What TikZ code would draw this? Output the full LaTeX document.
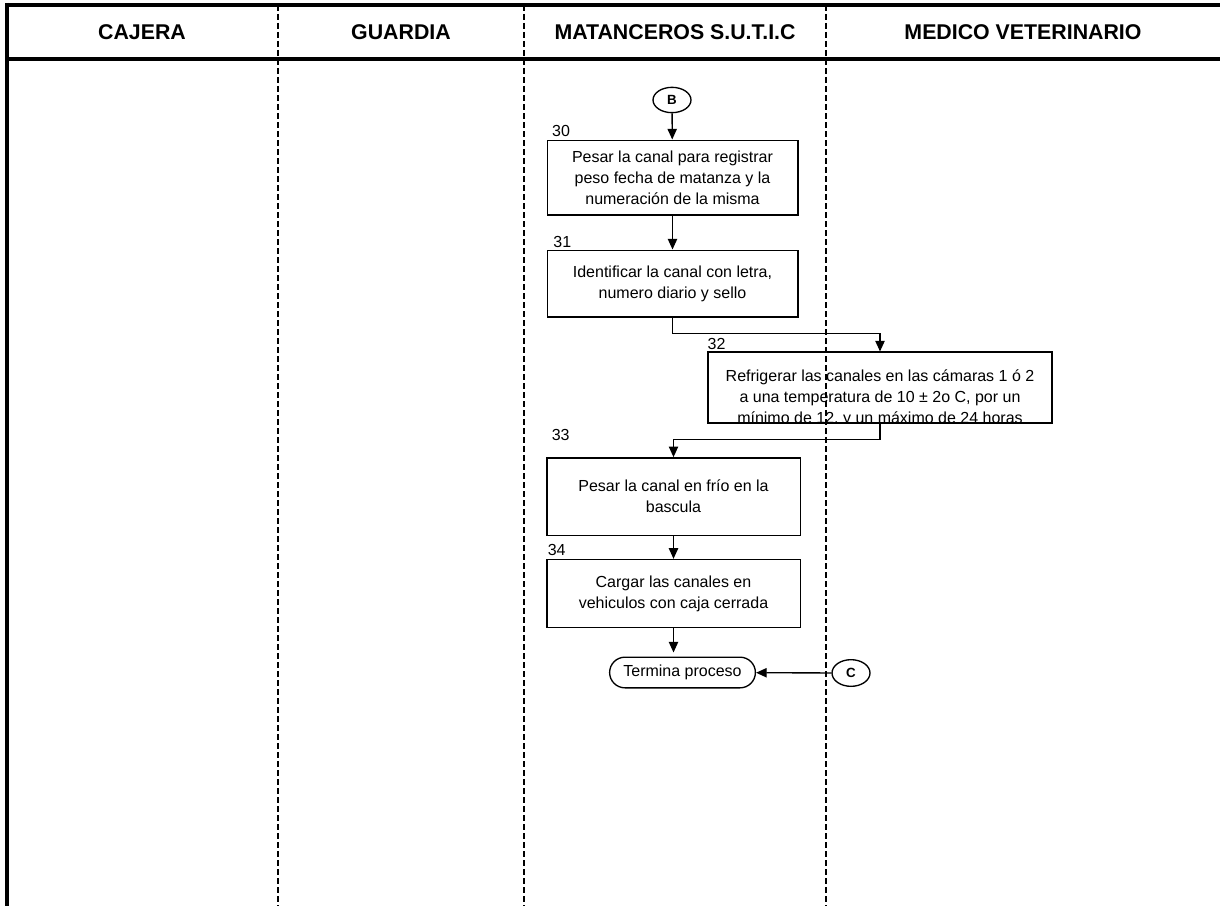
\documentclass[tikz,border=0pt]{standalone}
\usepackage{fontspec}
\setmainfont{Liberation Sans}
\usetikzlibrary{positioning,arrows.meta,shapes.geometric,shapes.misc}

\begin{document}
\begin{tikzpicture}[x=0.75pt, y=-0.75pt, >={Triangle[length=8pt,width=7pt]},
    every node/.style={font=\fontsize{12}{15.75}\selectfont, align=center},
    caja/.style={draw, line width=1pt, rectangle, inner sep=2pt},
    conector/.style={draw, line width=1pt, ellipse, inner sep=0pt, minimum width=28.5pt, minimum height=19pt, font=\fontsize{10}{11}\selectfont\bfseries},
    terminal/.style={draw, line width=1pt, rounded rectangle, minimum width=116pt, minimum height=23pt},
    titulo/.style={font=\fontsize{16}{18}\selectfont\bfseries},
    num/.style={inner sep=0pt, anchor=south west},
    flecha/.style={->, line width=1pt},
    borde/.style={line width=3pt},
    carril/.style={thick, dash pattern=on 4.5pt off 2.25pt}]
    \useasboundingbox (0,0) rectangle (1220,906);

    % lanes
    \draw[borde] (5,5) -- (1220,5);
    \draw[borde] (5,59) -- (1220,59);
    \draw[borde] (7,3) -- (7,906);
    \draw[carril] (278,5) -- (278,906);
    \draw[carril] (524,5) -- (524,906);
    \draw[carril] (826,5) -- (826,906);

    \node[titulo] (hcaj) at (142,32) {CAJERA};
    \node[titulo] (hgua) at (401,32) {GUARDIA};
    \node[titulo] (hmat) at (675,32) {MATANCEROS S.U.T.I.C};
    \node[titulo] (hmed) at (1023,32) {MEDICO VETERINARIO};

    % steps
    \node[conector] (conB) at (672,100) {B};
    \node[caja, minimum width=188pt, minimum height=56pt] (p30) at (672.5,177.5) {Pesar la canal para registrar\\peso fecha de matanza y la\\numeración de la misma};
    \node[caja, minimum width=188pt, minimum height=50pt] (p31) at (672.5,283.5) {Identificar la canal con letra,\\numero diario y sello};
    \node[caja, minimum width=258pt, minimum height=53pt] (p32) at (880,387.5) {};
    \begin{scope}
      \clip (p32.south west) rectangle (p32.north east);
      \node[anchor=north, inner sep=0pt] (t32) at ([yshift=-13.5pt]p32.north) {Refrigerar las canales en las cámaras 1 ó 2\\a una temperatura de 10 ± 2o C, por un\\mínimo de 12, y un máximo de 24 horas};
    \end{scope}
    \draw[line width=1pt] (p32.south west) rectangle (p32.north east);
    \node[caja, minimum width=190pt, minimum height=58pt] (p33) at (673.5,496.5) {Pesar la canal en frío en la\\bascula};
    \node[caja, minimum width=190pt, minimum height=51pt] (p34) at (673.5,593.5) {Cargar las canales en\\vehiculos con caja cerrada};
    \node[terminal] (fin) at (682.5,672.5) {Termina proceso};
    \node[conector, minimum height=20pt] (conC) at (851,673) {C};

    % step numbers
    \node[num] (n30) at ([xshift=4pt,yshift=2pt]p30.north west) {30};
    \node[num] (n31) at ([xshift=5pt,yshift=1pt]p31.north west) {31};
    \node[num] (n32) at ([xshift=0pt,yshift=1pt]p32.north west) {32};
    \node[num] (n33) at ([xshift=4pt,yshift=12pt]p33.north west) {33};
    \node[num] (n34) at ([xshift=1pt,yshift=2pt]p34.north west) {34};

    % connections
    \draw[flecha] (conB) -- (p30);
    \draw[flecha] (p30) -- (p31);
    \draw[flecha] (p31.south) -- ++(0,16) -| (p32.north);
    \draw[flecha] (p32.south) -- ++(0,16) -| (p33.north);
    \draw[flecha] (p33) -- (p34);
    \draw[flecha, shorten >=3pt] (p34.south) -- (p34.south |- fin.north);
    \draw[flecha] (conC) -- (fin);
\end{tikzpicture}
\end{document}
